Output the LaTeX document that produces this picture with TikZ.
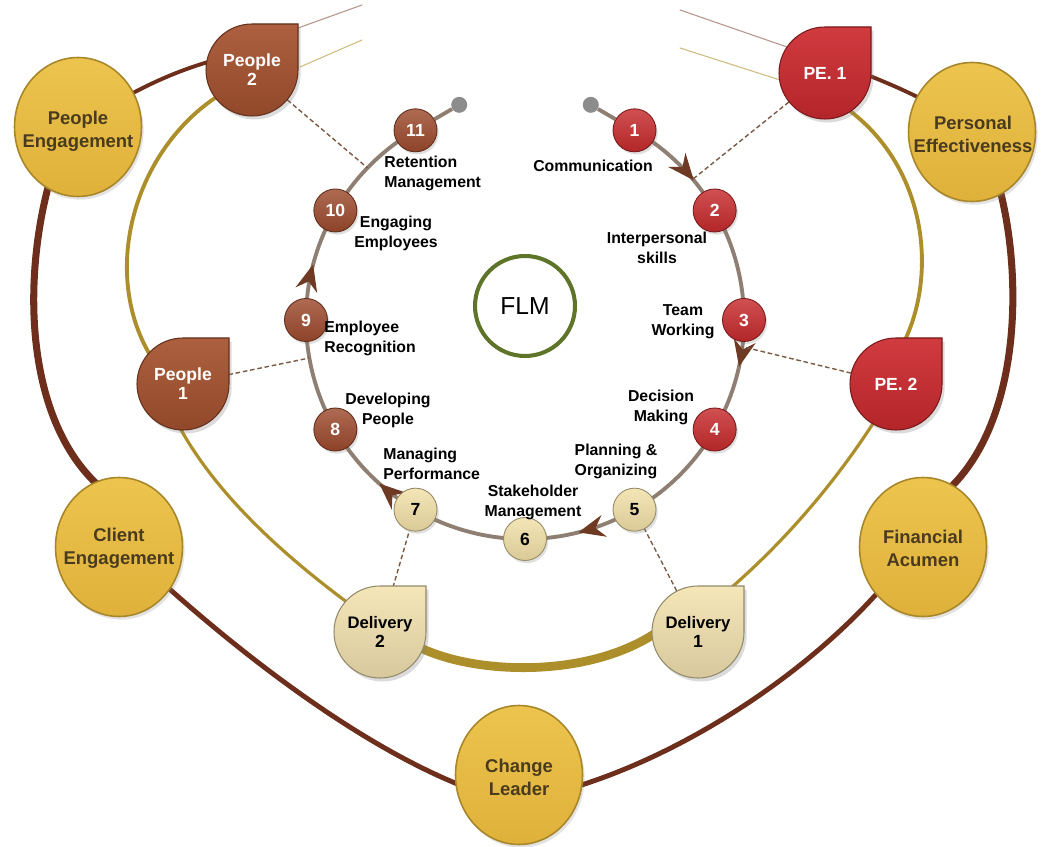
\documentclass[tikz,border=0pt]{standalone}
\usepackage{fontspec}
\setmainfont{Liberation Sans}
\usetikzlibrary{shapes.geometric,arrows.meta,decorations.markings,shadows}

\pgfdeclarelayer{rim}
\pgfsetlayers{rim,main}

\definecolor{rimbrown}{HTML}{6D2E1C}
\definecolor{rimgold}{HTML}{AC8E2A}
\definecolor{looptaupe}{HTML}{8E7F72}
\definecolor{arrowbrown}{HTML}{6E3A24}
\definecolor{dashbrown}{HTML}{7A5A44}
\definecolor{ballred}{HTML}{C62A2C}
\definecolor{ballbrown}{HTML}{9C4A2D}
\definecolor{ballcream}{HTML}{F2E0A8}
\definecolor{dropred}{HTML}{CC2A2F}
\definecolor{dropbrown}{HTML}{A5522F}
\definecolor{dropcream}{HTML}{F4E4B2}
\definecolor{coinlight}{HTML}{ECC44E}
\definecolor{coindark}{HTML}{DFB13A}
\definecolor{coinedge}{HTML}{A8862A}
\definecolor{cointext}{HTML}{4A3B1E}
\definecolor{flmgreen}{HTML}{5E7428}
\definecolor{dotgray}{HTML}{8C8C8C}

\tikzset{
  coin/.style={ellipse, minimum width=2.54cm, minimum height=2.78cm, inner sep=0pt,
    top color=coinlight, bottom color=coindark, draw=coinedge, line width=0.9pt,
    drop shadow={opacity=0.22, shadow xshift=1.2pt, shadow yshift=-1.8pt}},
  cointext/.style={text=cointext, font=\fontsize{10.5}{13}\selectfont\bfseries,
    align=center, inner sep=0pt},
  ball/.style={circle, minimum size=0.86cm, inner sep=0pt,
    top color=#1!82!white, bottom color=#1!90!black, draw=#1!62!black, line width=0.5pt,
    font=\fontsize{10}{12}\selectfont\bfseries,
    drop shadow={opacity=0.25, shadow xshift=1pt, shadow yshift=-1.5pt}},
  dropholder/.style={circle, minimum size=1.84cm, inner sep=0pt, align=center,
    font=\fontsize{10}{10.8}\selectfont\bfseries},
  lbl/.style={font=\fontsize{9}{11.4}\selectfont\bfseries, align=center, inner sep=0pt},
  endpoint/.style={circle, fill=dotgray, minimum size=0.32cm, inner sep=0pt},
  rimline/.style={line cap=round, line join=round},
  loopline/.style={looptaupe, line width=2.2pt},
  tie/.style={dashbrown, line width=0.8pt, dash pattern=on 2.6pt off 1.6pt},
  flow/.tip={Stealth[length=15pt, width=12.5pt, inset=5pt, color=arrowbrown]},
}

% teardrop: a disc whose upper right quarter is a square corner
\newcommand\dropnode[6]{%
  \shade[top color=#4!92!white, bottom color=#4!88!black, draw=#4!60!black, line width=0.6pt,
    drop shadow={opacity=0.28, shadow xshift=1.5pt, shadow yshift=-2pt}]
    (#2+46,#3) arc[start angle=0, end angle=-270, radius=46] -- (#2+46,#3+46) -- cycle;
  \node[dropholder, text=#5] (#1) at (#2,#3) {#6};
}

\begin{document}
\begin{tikzpicture}[x=0.02cm, y=0.02cm]
\useasboundingbox (0,0) rectangle (1047,-847);
\coordinate (C) at (525,-320);

% outer ring of competences
\node[coin] (pen) at (78,-127) {};
\node[cointext] (pen-t) at (78,-131) {People\\Engagement};
\node[coin] (pef) at (972,-132) {};
\node[cointext] (pef-t) at (973,-134) {Personal\\Effectiveness};
\node[coin] (cen) at (119,-547) {};
\node[cointext] (cen-t) at (119,-548) {Client\\Engagement};
\node[coin] (fin) at (923,-547) {};
\node[cointext] (fin-t) at (923,-548) {Financial\\Acumen};
\node[coin] (chg) at (519,-775) {};
\node[cointext] (chg-t) at (519,-777) {Change\\Leader};

% middle ring of groups
\dropnode{p2}{252}{-70}{dropbrown}{white}{People\\2}
\dropnode{pe1}{825}{-73}{dropred}{white}{PE. 1}
\dropnode{pe2}{896}{-384}{dropred}{white}{PE. 2}
\dropnode{p1}{183}{-384}{dropbrown}{white}{People\\1}
\dropnode{d2}{380}{-632}{dropcream}{black}{\fontsize{9.5}{9.6}\selectfont Delivery\\2}
\dropnode{d1}{698}{-632}{dropcream}{black}{\fontsize{9.5}{9.6}\selectfont Delivery\\1}

% centre
\node[circle, draw=flmgreen, line width=2.3pt, minimum size=2cm, inner sep=0pt,
  font=\fontsize{14}{16}\selectfont] (flm) at (525,-306) {FLM};

% numbered steps around the loop
\node[ball=ballred, text=white] (n1) at ([shift={(60:219)}]C) {1};
\node[ball=ballred, text=white] (n2) at ([shift={(30:219)}]C) {2};
\node[ball=ballred, text=white] (n3) at ([shift={(0:219)}]C) {3};
\node[ball=ballred, text=white] (n4) at ([shift={(-30:219)}]C) {4};
\node[ball=ballcream, text=black] (n5) at ([shift={(-60:219)}]C) {5};
\node[ball=ballcream, text=black] (n6) at ([shift={(-90:219)}]C) {6};
\node[ball=ballcream, text=black] (n7) at ([shift={(-120:219)}]C) {7};
\node[ball=ballbrown, text=white] (n8) at ([shift={(-150:219)}]C) {8};
\node[ball=ballbrown, text=white] (n9) at ([shift={(180:219)}]C) {9};
\node[ball=ballbrown, text=white] (n10) at ([shift={(150:219)}]C) {10};
\node[ball=ballbrown, text=white] (n11) at ([shift={(120:219)}]C) {11};
\node[endpoint] (dR) at ([shift={(73:225)}]C) {};
\node[endpoint] (dL) at ([shift={(107:225)}]C) {};

% step captions
\node[lbl] (t1) at (593,-166) {Communication};
\node[lbl] (t2) at (657,-248) {Interpersonal\\skills};
\node[lbl] (t3) at (683,-322) {Team\\Working};
\node[lbl] (t4) at (661,-407) {Decision\\Making};
\node[lbl] (t5) at (616,-461) {Planning \&\\Organizing};
\node[lbl] (t6) at (533,-502) {Stakeholder\\Management};
\node[lbl, align=left, anchor=west] (t7) at (383,-464) {Managing\\Performance};
\node[lbl] (t8) at (388,-410) {Developing\\People};
\node[lbl, align=left, anchor=west] (t9) at (324,-338) {Employee\\Recognition};
\node[lbl] (t10) at (396,-233) {Engaging\\Employees};
\node[lbl, align=left, anchor=west] (t11) at (384,-173) {Retention\\Management};

\begin{pgfonlayer}{rim}
  \fill[white] (0,0) rectangle (1047,-847);

  % outer brown rim
  \draw[rimline, rimbrown, line width=0.6pt, opacity=0.5] (362,-5) -- (298,-28);
  \draw[rimline, rimbrown, line width=2.2pt]
    (235,-55) .. controls (190,-65) and (150,-82) .. (110,-106);
  \draw[rimline, rimbrown, line width=4pt]
    (50,-180) .. controls (22,-280) and (25,-420) .. (100,-487);
  \draw[rimline, rimbrown, line width=2.8pt]
    (165,-585) .. controls (260,-670) and (370,-750) .. (465,-787);
  \draw[rimline, rimbrown, line width=2.8pt]
    (575,-787) .. controls (680,-755) and (800,-680) .. (880,-590);
  \draw[rimline, rimbrown, line width=4pt]
    (1000,-190) .. controls (1023,-280) and (1020,-420) .. (950,-488);
  \draw[rimline, rimbrown, line width=2.2pt]
    (935,-106) .. controls (905,-90) and (885,-82) .. (855,-70);
  \draw[rimline, rimbrown, line width=0.6pt, opacity=0.5] (787,-47) -- (680,-10);

  % middle gold rim
  \draw[rimline, rimgold, line width=0.6pt, opacity=0.6] (362,-40) -- (300,-67);
  \draw[rimline, rimgold, line width=2.2pt]
    (218,-96) .. controls (135,-150) and (100,-270) .. (150,-355);
  \draw[rimline, rimgold, line width=1.8pt]
    (180,-428) .. controls (220,-500) and (290,-560) .. (352,-606);
  \draw[rimline, rimgold, line width=5pt]
    (415,-645) .. controls (470,-675) and (590,-680) .. (660,-630);
  \draw[rimline, rimgold, line width=1.8pt]
    (732,-587) .. controls (780,-545) and (830,-490) .. (874,-422);
  \draw[rimline, rimgold, line width=2.2pt]
    (905,-340) .. controls (938,-270) and (925,-165) .. (846,-108);
  \draw[rimline, rimgold, line width=0.6pt, opacity=0.6] (780,-80) -- (680,-48);

  % the loop of steps with its direction arrows
  \draw[loopline, postaction={decorate}, decoration={markings,
      mark=at position 0.068 with {\arrow{flow}},
      mark=at position 0.241 with {\arrow{flow}},
      mark=at position 0.453 with {\arrow{flow}},
      mark=at position 0.639 with {\arrow{flow}},
      mark=at position 0.849 with {\arrow{flow}}}]
    ([shift={(60:219)}]C) arc[start angle=60, end angle=-240, radius=219];
  \draw[loopline] (n1) -- (dR);
  \draw[loopline] (n11) -- (dL);

  % links from groups to the loop
  \coordinate (k11) at ([shift={(136:219)}]C);
  \coordinate (k1) at ([shift={(40:219)}]C);
  \coordinate (k3) at ([shift={(-7:219)}]C);
  \coordinate (k9) at ([shift={(190:219)}]C);
  \draw[tie] (p2) -- (k11);
  \draw[tie] (pe1) -- (k1);
  \draw[tie] (pe2) -- (k3);
  \draw[tie] (p1) -- (k9);
  \draw[tie] (d2) -- (n7);
  \draw[tie] (d1) -- (n5);
\end{pgfonlayer}
\end{tikzpicture}
\end{document}
